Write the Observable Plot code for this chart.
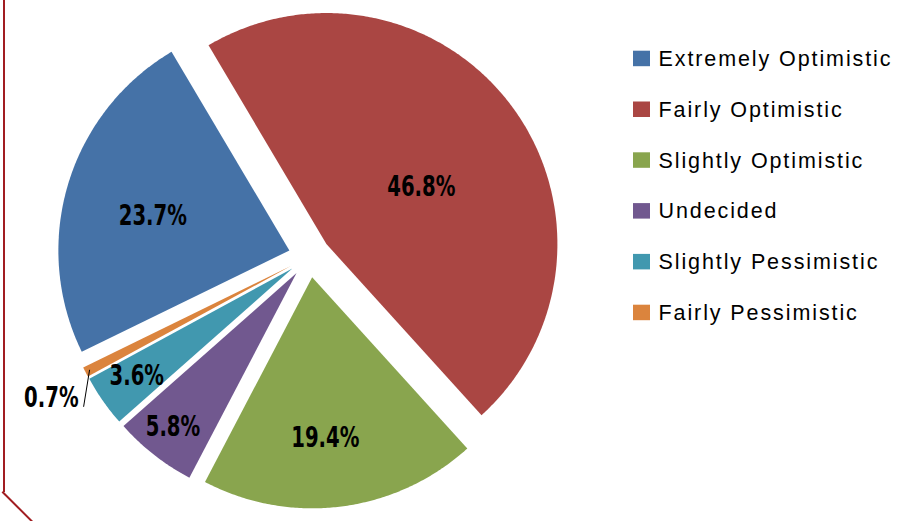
<!DOCTYPE html>
<html><head><meta charset="utf-8">
<script src="https://cdn.jsdelivr.net/npm/d3@7"></script>
<script src="https://cdn.jsdelivr.net/npm/@observablehq/plot@0.6"></script>
<style>
html,body{margin:0;padding:0;background:#fff;}
#wrap{position:relative;width:917px;height:521px;overflow:hidden;}
#wrap svg{position:absolute;left:0;top:0;}
.frame-v{position:absolute;left:3px;top:0;width:0;height:492px;border-left:2px solid #a11d21;z-index:2;}
.frame-d{position:absolute;left:3px;top:491px;width:44px;height:0;border-top:2px solid #a11d21;transform-origin:0 0;transform:rotate(45deg);z-index:2;}
</style></head><body><div id="wrap"><div class="frame-v"></div><div class="frame-d"></div></div>
<script>
// ---- data ----
const categories = ["Extremely Optimistic","Fairly Optimistic","Slightly Optimistic","Undecided","Slightly Pessimistic","Fairly Pessimistic"];
const shares = [23.7, 46.8, 19.4, 5.8, 3.6, 0.7];
const labels = ["23.7%","46.8%","19.4%","5.8%","3.6%","0.7%"];
const colors = ["#4572A7","#AA4643","#89A54E","#71588F","#4198AF","#DB843D"];

// ---- layout ----
const W = 917, H = 521;
const CX = 309, CY = 256, R = 231, EXPLODE = 21;
const deg = Math.PI / 180;
const START = 244 * deg;
const labelFont = "'DejaVu Sans Condensed','Liberation Sans Narrow',sans-serif";
const legendFont = "'Liberation Sans',Arial,sans-serif";
const LABEL_SQUASH = 0.78;
// label placement per slice: fraction of radius from slice apex, angle tweak (deg)
const labelPlace = [[0.61, -2.4], [0.48, 5.3], [0.70, 2.6], [0.856, 0.6], [0.818, 0.4], null];

const rows = categories.map((c, i) => ({cat: c, share: shares[i], label: labels[i]}));
const arcs = d3.pie().sort(null).value(d => d.share).startAngle(START).endAngle(START + 2 * Math.PI)(rows);

const polys = [], inLabels = [], leader = [], outLabels = [];
arcs.forEach((a, i) => {
  const mid = (a.startAngle + a.endAngle) / 2;
  const ox = CX + EXPLODE * Math.sin(mid), oy = CY - EXPLODE * Math.cos(mid);
  polys.push({cat: a.data.cat, x: ox, y: oy});
  const n = Math.max(2, Math.ceil((a.endAngle - a.startAngle) / (0.5 * deg)));
  for (let k = 0; k <= n; k++) {
    const t = a.startAngle + (a.endAngle - a.startAngle) * k / n;
    polys.push({cat: a.data.cat, x: ox + R * Math.sin(t), y: oy - R * Math.cos(t)});
  }
  const lp = labelPlace[i];
  if (lp) {
    const t = mid + lp[1] * deg;
    inLabels.push({x: ox + lp[0] * R * Math.sin(t), y: oy - lp[0] * R * Math.cos(t), text: a.data.label});
  } else {
    const x1 = ox + 0.98 * R * Math.sin(mid), y1 = oy - 0.98 * R * Math.cos(mid);
    const x2 = x1 - 6, y2 = y1 + 37;
    leader.push({x1, y1, x2, y2});
    outLabels.push({x: x2 - 5, y: y2 - 9, text: a.data.label});
  }
});

const legendRows = categories.map((c, i) => ({cat: c, cy: 58.2 + i * 50.8}));

const chart = Plot.plot({
  width: W, height: H,
  marginTop: 0, marginRight: 0, marginBottom: 0, marginLeft: 0,
  x: {domain: [0, W], range: [0, W], axis: null},
  y: {domain: [0, H], range: [0, H], axis: null},
  color: {domain: categories, range: colors},
  style: {background: "transparent"},
  marks: [
    Plot.line(polys, {x: "x", y: "y", z: "cat", fill: "cat", stroke: null, curve: "linear-closed"}),
    Plot.text(inLabels, {x: "x", y: "y", text: "text", fontFamily: labelFont, fontSize: 28, fontWeight: "bold", fill: "#000", textAnchor: "middle"}),
    Plot.link(leader, {x1: "x1", y1: "y1", x2: "x2", y2: "y2", stroke: "#000", strokeWidth: 1}),
    Plot.text(outLabels, {x: "x", y: "y", text: "text", fontFamily: labelFont, fontSize: 28, fontWeight: "bold", fill: "#000", textAnchor: "end"}),
    Plot.rect(legendRows, {x1: 633, x2: 650, y1: d => d.cy - 7.5, y2: d => d.cy + 8, fill: "cat"}),
    Plot.text(legendRows, {x: 658, y: d => d.cy + 0.5, text: "cat", fontFamily: legendFont, fontSize: 21.5, fill: "#000", textAnchor: "start"})
  ]
});
document.getElementById("wrap").appendChild(chart);

// typographic styling: condensed bold labels, tracked legend text
chart.querySelectorAll("text").forEach(t => {
  const s = t.textContent;
  if (labels.includes(s)) {
    const x = +t.getAttribute("x") || 0, y = +t.getAttribute("y") || 0;
    const prev = t.getAttribute("transform") || "";
    t.setAttribute("transform", `${prev} translate(${x},${y}) scale(${LABEL_SQUASH},1) translate(${-x},${-y})`);
  } else if (categories.includes(s)) {
    t.style.letterSpacing = "1.9px";
  }
});
</script></body></html>
